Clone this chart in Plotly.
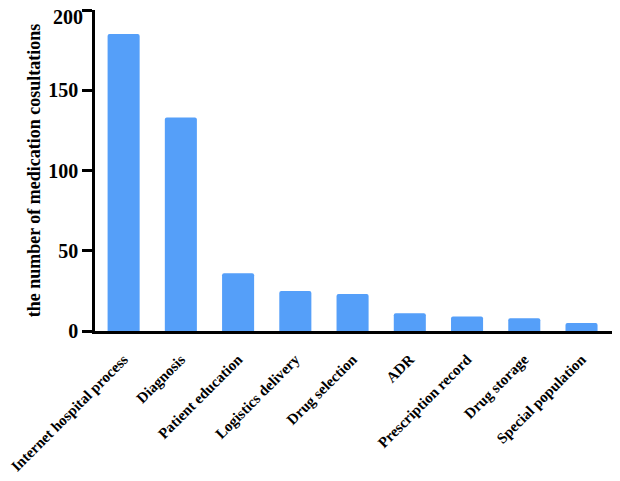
import plotly.graph_objects as go

categories = ["Internet hospital process", "Diagnosis", "Patient education",
              "Logistics delivery", "Drug selection", "ADR",
              "Prescription record", "Drug storage", "Special population"]
values = [185, 133, 36, 25, 23, 11, 9, 8, 5]
y_ticks = [0, 50, 100, 150, 200]
y_tick_labels = ["0", "50", "100", "150", "200"]

font_family = "Liberation Serif, Times New Roman, serif"
tick_font = dict(family=font_family, size=20, color="black", weight="bold")

fig = go.Figure(go.Bar(
    x=categories, y=values,
    marker=dict(color="#559ff9", line=dict(width=0)),
    width=0.56,
))

# top tick label drawn as annotation so it is not clipped at the page top
fig.add_annotation(
    x=0, xref="paper", y=y_ticks[-1], yref="y",
    text=y_tick_labels[-1], showarrow=False,
    xanchor="right", yanchor="middle", xshift=-11, yshift=-7,
    borderpad=0,
    font=tick_font,
)

fig.update_layout(
    width=620, height=481,
    margin=dict(l=87, r=15, t=2, b=158, autoexpand=False),
    plot_bgcolor="white", paper_bgcolor="white",
    barcornerradius=2,
    showlegend=False,
    font=dict(family=font_family, color="black"),
)
fig.update_xaxes(
    range=[-0.5, 8.55], automargin=False,
    showline=True, linecolor="black", linewidth=2.5,
    showgrid=False, ticks="", tickangle=-45, ticklabelstandoff=11,
    tickfont=dict(family=font_family, size=15, color="black", weight="bold"),
)
fig.update_yaxes(
    range=[0, 200], tickvals=y_ticks,
    ticktext=y_tick_labels[:-1] + [""], automargin=False,
    showline=True, linecolor="black", linewidth=2.5,
    showgrid=False, zeroline=False,
    ticks="outside", ticklen=10, tickwidth=2.5, tickcolor="black",
    tickfont=tick_font,
    title=dict(text="the number of medication cosultations",
               font=dict(family=font_family, size=18, color="black", weight="bold"),
               standoff=3),
)

fig.write_html("out.html")
